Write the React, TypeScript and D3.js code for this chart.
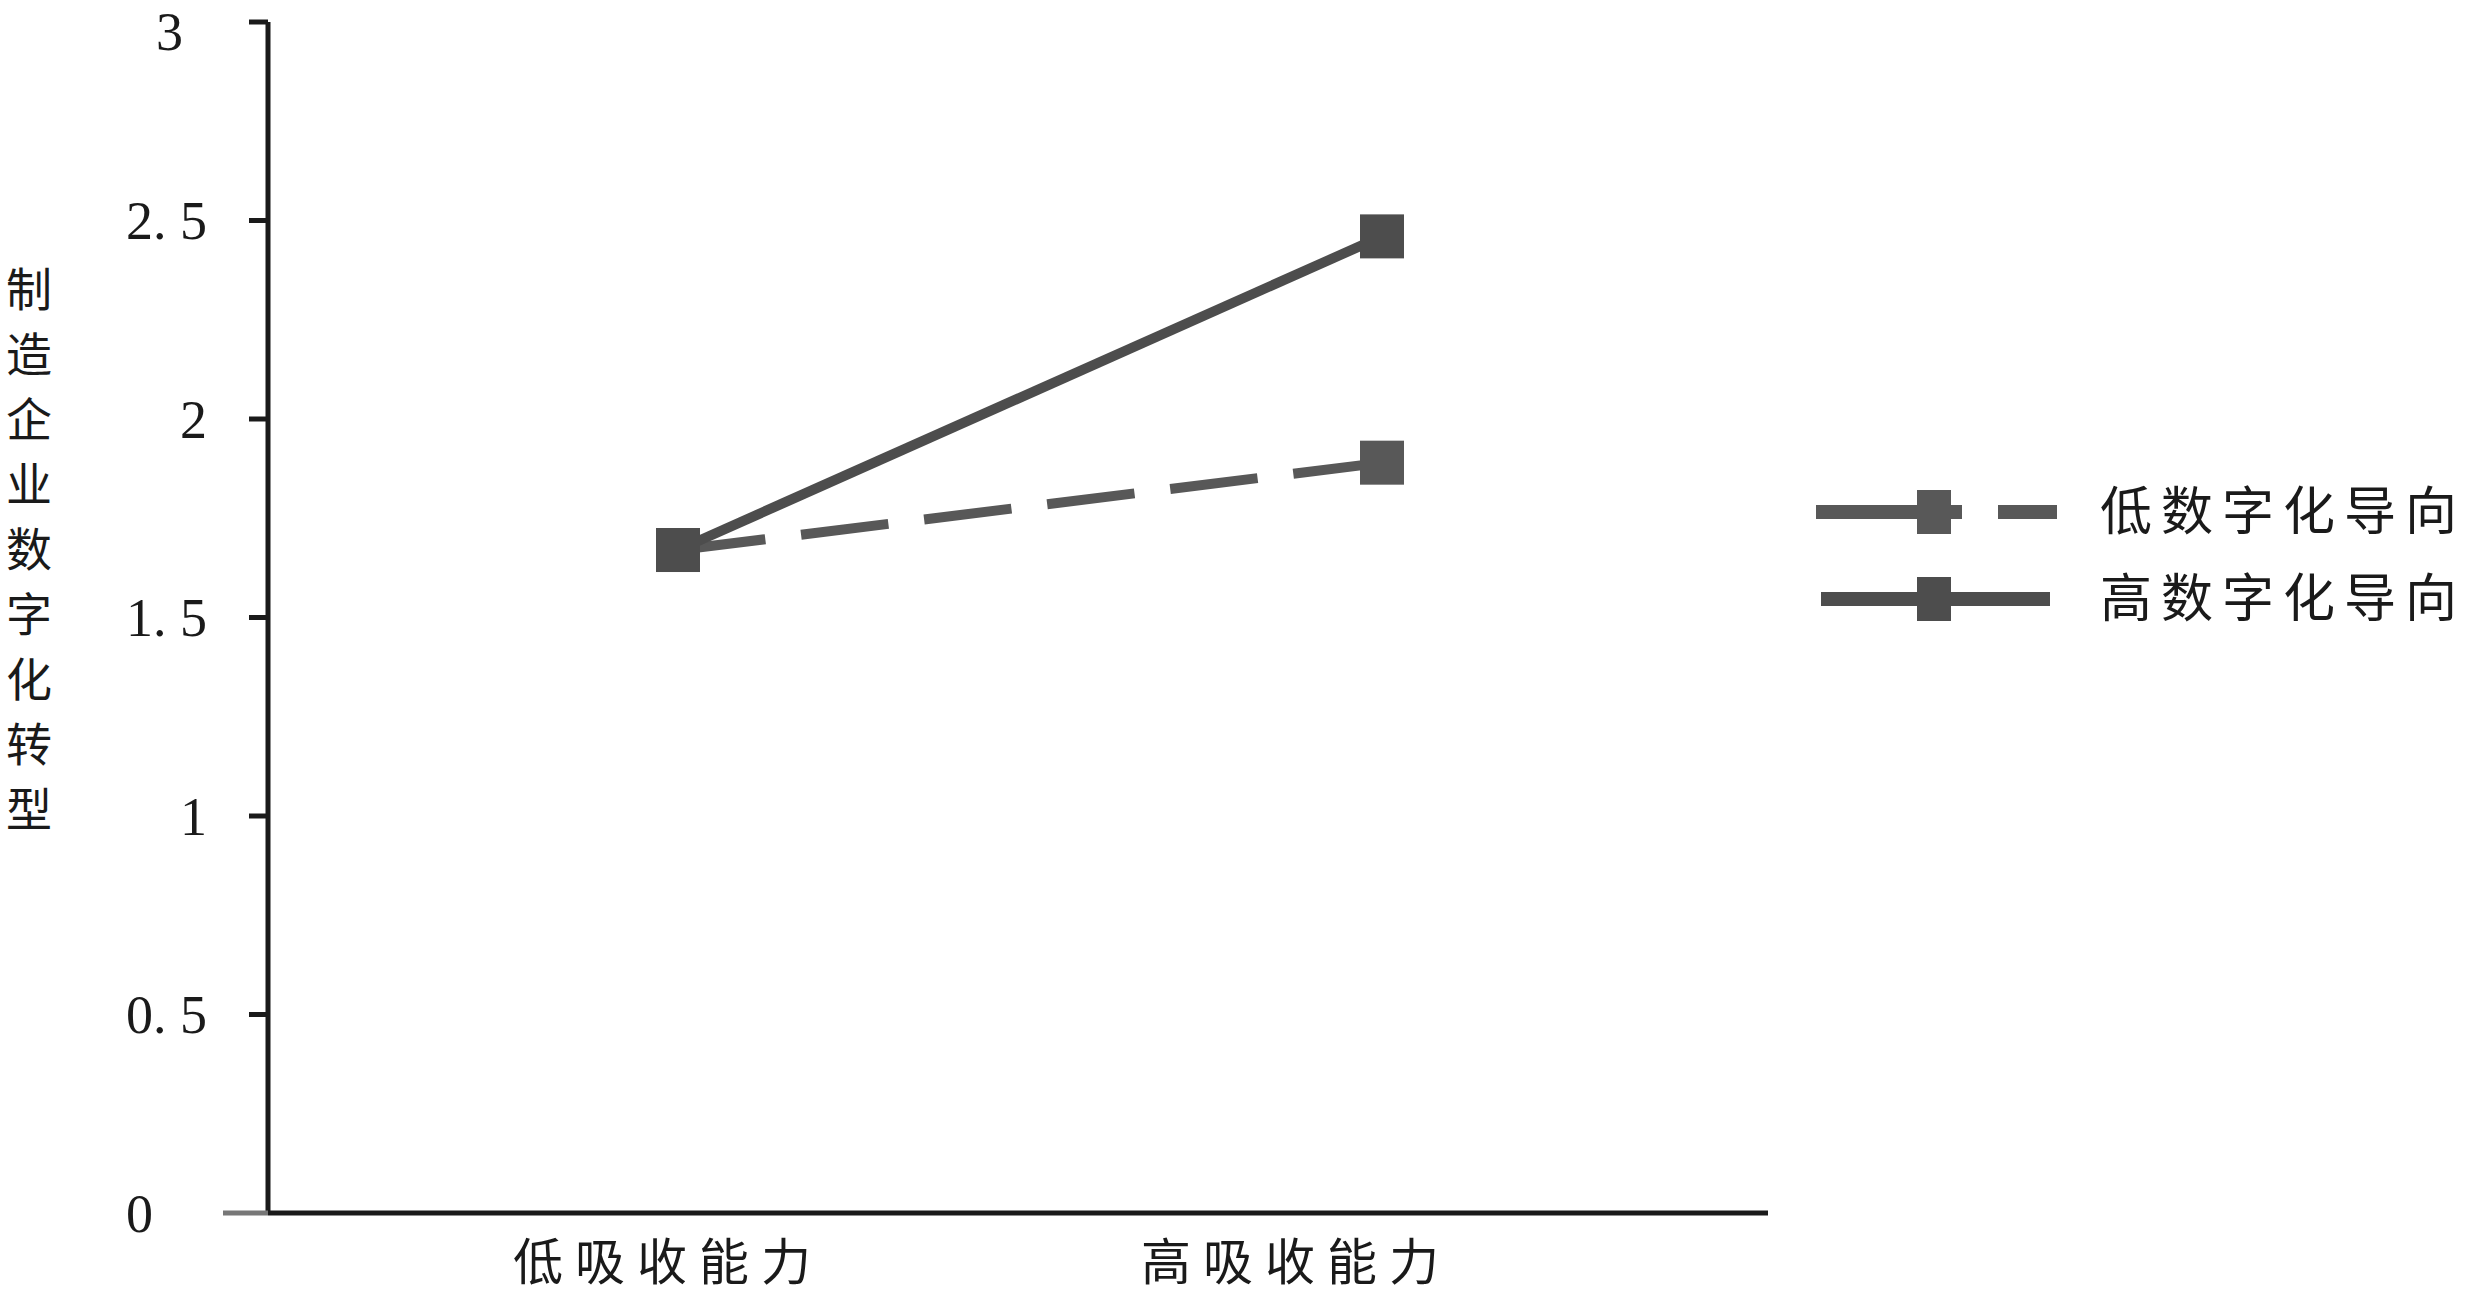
import { useEffect } from "react";
import * as d3 from "d3";

const categories = ["低吸收能力", "高吸收能力"];
const seriesNames = ["低数字化导向", "高数字化导向"];
const lowOrientation = [1.67, 1.89];
const highOrientation = [1.67, 2.46];
const yTicks = [0, 0.5, 1, 1.5, 2, 2.5, 3];
const yTickLabels = ["0", "0. 5", "1", "1. 5", "2", "2. 5", "3"];
const yTitle = "制造企业数字化转型";

const W = 2470;
const H = 1297;
const serif = "'Liberation Serif', 'Times New Roman', serif";
const cjk = "'Noto Sans CJK SC', sans-serif";

const App = () => {
  useEffect(() => {
    document.body.style.margin = "0";
  }, []);

  const axisX = 268;
  const y = d3.scaleLinear().domain([0, 3]).range([1213, 22]);
  const x = d3.scalePoint<string>().domain(categories).range([678, 1382]);
  const xLabel = d3.scalePoint<string>().domain(categories).range([668, 1296]);

  const line = d3
    .line<number>()
    .x((_d, i) => x(categories[i]) as number)
    .y(d => y(d));

  const series = [
    { name: seriesNames[0], values: lowOrientation, dash: "88 36", color: "#585858" },
    { name: seriesNames[1], values: highOrientation, dash: null, color: "#4d4d4d" },
  ];

  const ms = 44;
  const labelRight = (t: number) => (t === 0 ? 153 : t === 3 ? 183 : 207);

  return (
    <svg width={W} height={H} style={{ display: "block", background: "#fff" }}>
      {/* y axis */}
      <line x1={axisX} x2={axisX} y1={y(3)} y2={y(0)} stroke="#1a1a1a" strokeWidth={5} />
      {yTicks.map((t, i) => (
        <g key={t}>
          {t > 0 && (
            <line x1={axisX - 19} x2={axisX} y1={y(t)} y2={y(t)} stroke="#1a1a1a" strokeWidth={5} />
          )}
          <text
            x={labelRight(t)}
            y={Math.max(y(t), 31)}
            dy="0.35em"
            textAnchor="end"
            fontFamily={serif}
            fontSize={54}
            fill="#1a1a1a"
          >
            {yTickLabels[i]}
          </text>
        </g>
      ))}
      {/* x axis */}
      <line x1={223} x2={axisX} y1={y(0)} y2={y(0)} stroke="#777" strokeWidth={5} />
      <line x1={axisX} x2={1768} y1={y(0)} y2={y(0)} stroke="#1a1a1a" strokeWidth={5} />
      {categories.map(c => (
        <text
          key={c}
          x={xLabel(c)}
          y={1262}
          dy="0.35em"
          textAnchor="middle"
          fontFamily={cjk}
          fontSize={50}
          letterSpacing={12}
          fill="#1a1a1a"
        >
          {c}
        </text>
      ))}
      {/* y title, one character per row */}
      {Array.from(yTitle).map((ch, i) => (
        <text
          key={i}
          x={29}
          y={290 + i * 65}
          dy="0.35em"
          textAnchor="middle"
          fontFamily={cjk}
          fontSize={46}
          fill="#1a1a1a"
        >
          {ch}
        </text>
      ))}
      {/* series */}
      {series.map(s => (
        <g key={s.name}>
          <path
            d={line(s.values) as string}
            fill="none"
            stroke={s.color}
            strokeWidth={10}
            strokeDasharray={s.dash ?? undefined}
          />
          {s.values.map((v, i) => (
            <rect
              key={i}
              x={(x(categories[i]) as number) - ms / 2}
              y={y(v) - ms / 2}
              width={ms}
              height={ms}
              fill={s.color}
            />
          ))}
        </g>
      ))}
      {/* legend */}
      {series.map((s, i) => {
        const ly = 512 + i * 87;
        return (
          <g key={s.name}>
            {s.dash ? (
              <>
                <line x1={1816} x2={1962} y1={ly} y2={ly} stroke={s.color} strokeWidth={14} />
                <line x1={1998} x2={2057} y1={ly} y2={ly} stroke={s.color} strokeWidth={14} />
              </>
            ) : (
              <line x1={1821} x2={2050} y1={ly} y2={ly} stroke={s.color} strokeWidth={14} />
            )}
            <rect x={1917} y={ly - 22} width={34} height={44} fill={s.color} />
            <text
              x={2100}
              y={ly}
              dy="0.35em"
              fontFamily={cjk}
              fontSize={52}
              letterSpacing={9}
              fill="#1a1a1a"
            >
              {s.name}
            </text>
          </g>
        );
      })}
    </svg>
  );
};

export default App;
